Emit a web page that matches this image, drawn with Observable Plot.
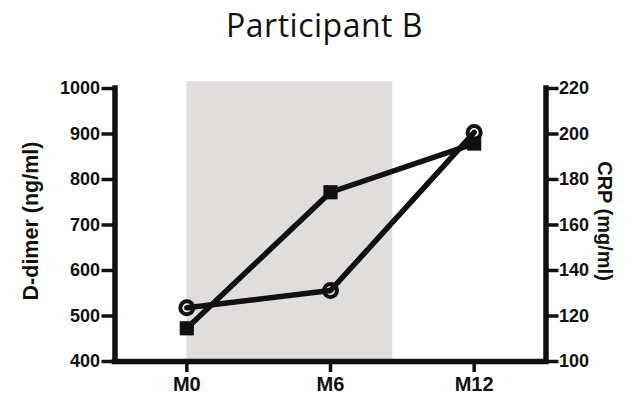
<!DOCTYPE html>
<html>
<head>
<meta charset="utf-8">
<script src="https://cdn.jsdelivr.net/npm/d3@7"></script>
<script src="https://cdn.jsdelivr.net/npm/@observablehq/plot@0.6"></script>
<style>
  html, body { margin: 0; padding: 0; background: #fff; }
  #wrap { width: 632px; height: 398px; overflow: hidden; }
  #title { height: 50px; line-height: 50px; font-family: "Open Sans", sans-serif; font-size: 32px; letter-spacing: 0.5px; color: #111; text-align: center; padding-left: 17px; box-sizing: border-box; width: 632px; }
</style>
</head>
<body>
<div id="wrap">
  <div id="title">Participant B</div>
  <div id="chart"></div>
</div>
<script>
// Time points (months) and their labels
const monthPos = [0, 6, 12];
const monthLabels = ["M0", "M6", "M12"];
// D-dimer (ng/ml), left axis — filled squares
const dDimer = [473, 772, 879];
// CRP (mg/ml), right axis — open circles
const crp = [123.6, 131.2, 200.7];
// Axis tick values
const dDimerTicks = [400, 500, 600, 700, 800, 900, 1000];
const crpTicks = [100, 120, 140, 160, 180, 200, 220];
// Axis extents
const xDomain = [-3, 15];
const yDomain = [400, 1000];
// Shaded period (months) and its top (ng/ml)
const shadeX = [0, 8.6];
const shadeTop = 1015;

// map CRP onto D-dimer scale (100..220 -> 400..1000)
const crpToD = c => yDomain[0] + (c - crpTicks[0]) * (yDomain[1] - yDomain[0]) / (crpTicks[crpTicks.length - 1] - crpTicks[0]);

const dData = monthPos.map((m, i) => ({x: m, y: dDimer[i]}));
const cData = monthPos.map((m, i) => ({x: m, y: crpToD(crp[i])}));
const shade = [{x1: shadeX[0], x2: shadeX[1], y1: yDomain[0], y2: shadeTop}];

const ink = "#111";

const chart = Plot.plot({
  width: 632,
  height: 348,
  marginTop: 38,
  marginBottom: 37,
  marginLeft: 114.5,
  marginRight: 86.5,
  x: {domain: xDomain, axis: null},
  y: {domain: yDomain, axis: null},
  style: {fontFamily: "'Liberation Sans', Arial, sans-serif", fontWeight: "bold", color: ink, background: "white", overflow: "visible"},
  marks: [
    Plot.rect(shade, {x1: "x1", x2: "x2", y1: "y1", y2: "y2", fill: "#dfdedd"}),
    Plot.axisY({anchor: "left", ticks: dDimerTicks, tickFormat: d => String(d), tickSize: 13, tickPadding: 2, strokeWidth: 3.5, fontSize: 18, fontWeight: "bold", label: null}),
    Plot.axisY({anchor: "right", ticks: crpTicks.map(crpToD), tickFormat: (d, i) => String(crpTicks[i]), tickSize: 12, tickPadding: 1, strokeWidth: 3.5, fontSize: 18, fontWeight: "bold", label: null}),
    Plot.axisX({ticks: monthPos, tickFormat: (d, i) => monthLabels[i], tickSize: 11, tickPadding: 4, strokeWidth: 3.5, fontSize: 20, fontWeight: "bold", label: null}),
    Plot.ruleX(xDomain, {y1: yDomain[0], y2: yDomain[1], stroke: ink, strokeWidth: 5.5, strokeLinecap: "square"}),
    Plot.ruleY([yDomain[0]], {x1: xDomain[0], x2: xDomain[1], stroke: ink, strokeWidth: 5.5, strokeLinecap: "square"}),
    Plot.text(["D-dimer (ng/ml)"], {frameAnchor: "left", textAnchor: "middle", lineAnchor: "middle", rotate: -90, dx: -84, dy: -4, fontSize: 21.5, fontWeight: "bold", fill: ink}),
    Plot.text(["CRP (mg/ml)"], {frameAnchor: "right", textAnchor: "middle", lineAnchor: "middle", rotate: 90, dx: 58, dy: -4, fontSize: 20, fontWeight: "bold", fill: ink}),
    Plot.line(dData, {x: "x", y: "y", stroke: ink, strokeWidth: 5.5}),
    Plot.line(cData, {x: "x", y: "y", stroke: ink, strokeWidth: 5.5}),
    Plot.dot(dData, {x: "x", y: "y", symbol: "square", r: 8, fill: ink}),
    Plot.dot(cData, {x: "x", y: "y", symbol: "circle", r: 6.5, fill: "none", stroke: ink, strokeWidth: 4})
  ]
});
document.getElementById("chart").appendChild(chart);
</script>
</body>
</html>
